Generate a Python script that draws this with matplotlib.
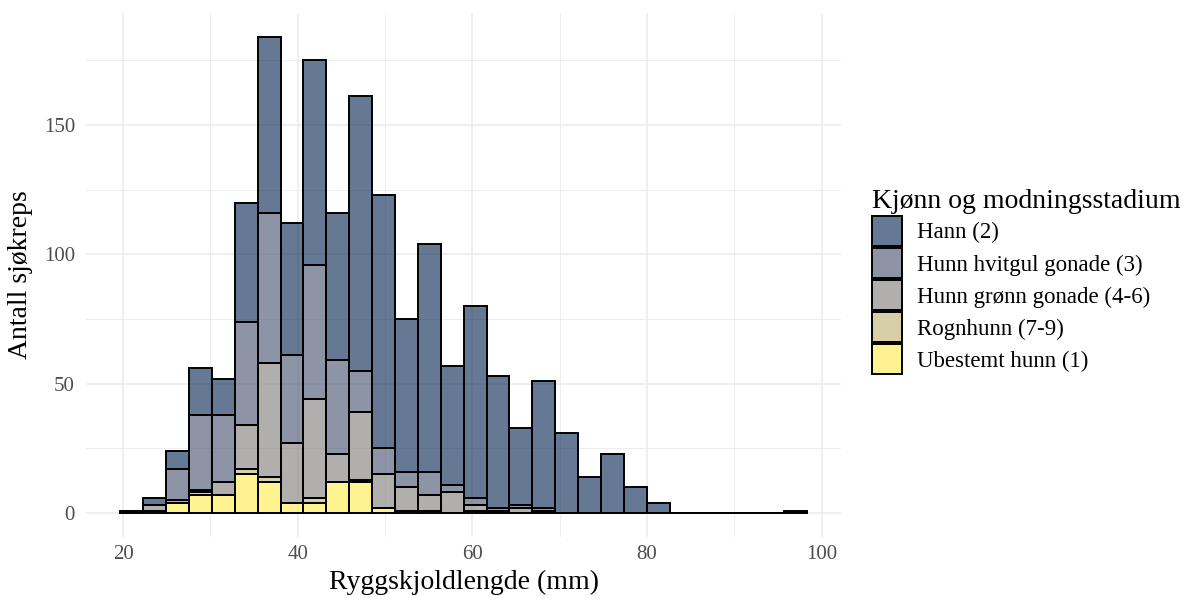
import matplotlib.pyplot as plt
import numpy as np
from matplotlib.patches import Patch
from matplotlib.colors import to_rgba

# lengde-intervall (ggplot bins=30, senter paa min og maks)
xmin = 21
xmax = 97
nbins = 30

kategorier = ['Hann (2)', 'Hunn hvitgul gonade (3)', 'Hunn grønn gonade (4-6)',
              'Rognhunn (7-9)', 'Ubestemt hunn (1)']
farger = ['#00204D', '#414D6B', '#7C7B78', '#BCAF6F', '#FFEA46']

hann = [0, 3, 7, 18, 14, 46, 68, 51, 79, 57, 106, 98, 59, 88, 46, 74, 51, 30, 49, 31,
        14, 23, 10, 4, 0, 0, 0, 0, 0, 1]
hvitgul = [0, 0, 12, 29, 26, 40, 58, 34, 52, 36, 16, 10, 6, 9, 3, 3, 1, 1, 1, 0,
           0, 0, 0, 0, 0, 0, 0, 0, 0, 0]
gronn = [1, 2, 1, 1, 5, 17, 44, 23, 38, 11, 26, 13, 9, 6, 8, 2, 1, 2, 1, 0,
         0, 0, 0, 0, 0, 0, 0, 0, 0, 0]
rogn = [0, 0, 0, 1, 0, 2, 2, 0, 2, 0, 1, 0, 0, 0, 0, 0, 0, 0, 0, 0,
        0, 0, 0, 0, 0, 0, 0, 0, 0, 0]
ubestemt = [0, 1, 4, 7, 7, 15, 12, 4, 4, 12, 12, 2, 1, 1, 0, 1, 0, 0, 0, 0,
            0, 0, 0, 0, 0, 0, 0, 0, 0, 0]

plt.rcParams['font.family'] = ['Liberation Serif', 'DejaVu Serif']

alfa = 0.6
fyll = [to_rgba(f, alfa) for f in farger]

bredde = (xmax - xmin) / (nbins - 1)
venstre = xmin - bredde / 2 + np.arange(nbins) * bredde

fig = plt.figure(figsize=(11.95, 5.98), dpi=100)
ax = fig.add_axes([0.072, 0.102, 0.632, 0.876])

# stables nedenfra: ubestemt, rogn, gronn, hvitgul, hann
serier = [ubestemt, rogn, gronn, hvitgul, hann]
serie_fyll = fyll[::-1]
bunn = np.zeros(nbins)
for s, f in zip(serier, serie_fyll):
    s = np.array(s, dtype=float)
    ax.bar(venstre, s, width=bredde, bottom=bunn, align='edge',
           facecolor=f, edgecolor='black', linewidth=1.4, zorder=2)
    bunn = bunn + s

lo = venstre[0]
hi = venstre[-1] + bredde
pad = (hi - lo) * 0.05
ax.set_xlim(lo - pad, hi + pad)
ax.set_ylim(-bunn.max() * 0.05, bunn.max() * 1.05)

ax.set_xticks([20, 40, 60, 80, 100])
ax.set_xticks([30, 50, 70, 90], minor=True)
ax.set_yticks([0, 50, 100, 150])
ax.set_yticks([25, 75, 125, 175], minor=True)
ax.grid(which='major', color='#EBEBEB', linewidth=1.1, zorder=0)
ax.grid(which='minor', color='#EBEBEB', linewidth=0.6, zorder=0)
ax.set_axisbelow(True)
for sp in ax.spines.values():
    sp.set_visible(False)
ax.tick_params(which='both', length=0, labelsize=15, labelcolor='#4D4D4D')
ax.tick_params(axis='y', pad=8)
ax.tick_params(axis='x', pad=6)

ax.set_xlabel('Ryggskjoldlengde (mm)', fontsize=20, labelpad=4)
ax.set_ylabel('Antall sjøkreps', fontsize=20, labelpad=8)

handles = [Patch(facecolor=f, edgecolor='black', linewidth=1.4) for f in fyll]
leg = fig.legend(handles, kategorier, loc='center left', bbox_to_anchor=(0.7297, 0.529),
                 frameon=False, fontsize=16.5, title='Kjønn og modningsstadium',
                 title_fontsize=20, handlelength=1.31, handleheight=1.64,
                 labelspacing=0.09, handletextpad=0.65, borderpad=0, borderaxespad=0,
                 alignment='left')

fig.savefig('out.png', dpi=100)
